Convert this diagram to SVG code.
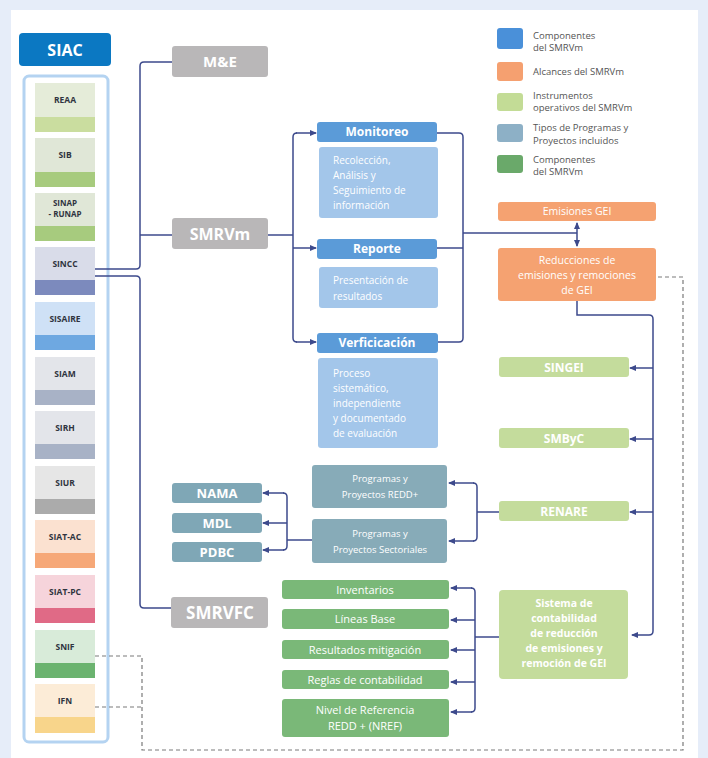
<svg xmlns="http://www.w3.org/2000/svg" width="708" height="758" viewBox="0 0 708 758">
<style>
text{font-family:"Open Sans","Liberation Sans",sans-serif}
.item text{font-size:8.5px;font-weight:bold;fill:#2f3440;text-anchor:middle}
.item text.sm{font-size:8px}
.gray rect{fill:#b9b7b8}
.gray text{fill:#fff;font-weight:bold;text-anchor:middle}
.hdr rect{fill:#5b9bd8}
.hdr text{fill:#fff;font-weight:bold;font-size:12px;text-anchor:middle}
.desc rect{fill:#a3c6ea}
.desc text{fill:#fff;font-size:10px}
.org rect{fill:#f5a271}
.org text{fill:#fff;font-size:10.5px;text-anchor:middle}
.lg rect{fill:#c4dc9c}
.lg text{fill:#fff;font-size:12px;font-weight:bold;text-anchor:middle}
.lg text.st{font-size:10.5px}
.tl rect{fill:#87abb8}
.tl text{fill:#fff;font-size:9.5px;text-anchor:middle}
.tb rect{fill:#7fa7b6}
.tb text{fill:#fff;font-size:13px;font-weight:bold;text-anchor:middle}
.gr rect{fill:#7ab878}
.gr text{fill:#fff;font-size:11px;text-anchor:middle}
.legend text{fill:#555;font-size:9.5px}
.conn path{fill:none;stroke:#3d4a8c;stroke-width:1.5}
.dash path{fill:none;stroke:#7a7a7a;stroke-width:1.2;stroke-dasharray:4 3}
</style>
<defs>
<marker id="ah" markerWidth="7" markerHeight="6" refX="6" refY="3" orient="auto-start-reverse" markerUnits="userSpaceOnUse">
<path d="M0,0 L7,3 L0,6 Z" fill="#3d4a8c"/>
</marker>
</defs>
<rect x="0" y="0" width="708" height="758" fill="#e6edf9"/>
<rect x="11" y="10" width="687" height="748" fill="#ffffff"/>

<!-- Left SIAC panel -->
<g id="siac">
<rect x="19" y="33" width="92" height="33" rx="4" fill="#0b78c2"/>
<text x="65" y="56" font-size="16" font-weight="bold" fill="#fff" text-anchor="middle">SIAC</text>
</g>
<rect x="24" y="76" width="84" height="666" rx="5" fill="#fff" stroke="#b4d3f1" stroke-width="3"/>
<g id="reaa" class="item"><rect x="35" y="83" width="60" height="34" fill="#e5ecd9"/><rect x="35" y="117" width="60" height="15" fill="#cadd9f"/><text x="65" y="103">REAA</text></g>
<g id="sib" class="item"><rect x="35" y="138" width="60" height="34" fill="#e0e7d7"/><rect x="35" y="172" width="60" height="15" fill="#a7cb7e"/><text x="65" y="158">SIB</text></g>
<g id="sinap" class="item"><rect x="35" y="193" width="60" height="33" fill="#e0e7d7"/><rect x="35" y="226" width="60" height="15" fill="#a7cb7e"/><text class="sm" x="65" y="206">SINAP</text><text class="sm" x="65" y="217">- RUNAP</text></g>
<g id="sincc" class="item"><rect x="35" y="247" width="60" height="33" fill="#d9dce9"/><rect x="35" y="280" width="60" height="15" fill="#7c8abd"/><text x="65" y="267">SINCC</text></g>
<g id="sisaire" class="item"><rect x="35" y="302" width="60" height="33" fill="#cfe1f6"/><rect x="35" y="335" width="60" height="15" fill="#6ea8e1"/><text x="65" y="322">SISAIRE</text></g>
<g id="siam" class="item"><rect x="35" y="357" width="60" height="33" fill="#e3e5ea"/><rect x="35" y="390" width="60" height="15" fill="#a8b2c6"/><text x="65" y="377">SIAM</text></g>
<g id="sirh" class="item"><rect x="35" y="411" width="60" height="33" fill="#e3e5ea"/><rect x="35" y="444" width="60" height="15" fill="#a8b2c6"/><text x="65" y="431">SIRH</text></g>
<g id="siur" class="item"><rect x="35" y="466" width="60" height="33" fill="#e6e6e6"/><rect x="35" y="499" width="60" height="15" fill="#ababab"/><text x="65" y="486">SIUR</text></g>
<g id="siatac" class="item"><rect x="35" y="520" width="60" height="33" fill="#fbe1d0"/><rect x="35" y="553" width="60" height="15" fill="#f6a878"/><text x="65" y="540">SIAT-AC</text></g>
<g id="siatpc" class="item"><rect x="35" y="575" width="60" height="33" fill="#f6d4db"/><rect x="35" y="608" width="60" height="15" fill="#e06a86"/><text x="65" y="595">SIAT-PC</text></g>
<g id="snif" class="item"><rect x="35" y="630" width="60" height="33" fill="#d8ebd9"/><rect x="35" y="663" width="60" height="15" fill="#6bb36f"/><text x="65" y="650">SNIF</text></g>
<g id="ifn" class="item"><rect x="35" y="684" width="60" height="33" fill="#fcecd7"/><rect x="35" y="717" width="60" height="16" fill="#f8d58b"/><text x="65" y="704">IFN</text></g>

<!-- Gray nodes -->
<g id="me" class="gray"><rect x="172" y="46" width="96" height="31" rx="3"/><text x="220" y="67" font-size="15">M&amp;E</text></g>
<g id="smrvm" class="gray"><rect x="172" y="218" width="96" height="31" rx="3"/><text x="220" y="240" font-size="16">SMRVm</text></g>
<g id="smrvfc" class="gray"><rect x="171" y="597" width="97" height="31" rx="3"/><text x="220" y="619" font-size="17">SMRVFC</text></g>

<!-- Blue components -->
<g id="monitoreo" class="hdr"><rect x="317" y="122" width="120" height="20" rx="3"/><text x="377" y="136">Monitoreo</text></g>
<g id="monitoreo-desc" class="desc"><rect x="319" y="147" width="119" height="71" rx="3"/><text x="333" y="164">Recolección,</text><text x="333" y="179">Análisis y</text><text x="333" y="194">Seguimiento de</text><text x="333" y="209">información</text></g>
<g id="reporte" class="hdr"><rect x="317" y="239" width="120" height="20" rx="3"/><text x="377" y="253">Reporte</text></g>
<g id="reporte-desc" class="desc"><rect x="319" y="267" width="119" height="41" rx="3"/><text x="333" y="284">Presentación de</text><text x="333" y="300">resultados</text></g>
<g id="verificacion" class="hdr"><rect x="317" y="333" width="121" height="20" rx="3"/><text x="377" y="347">Verficicación</text></g>
<g id="verificacion-desc" class="desc"><rect x="318" y="358" width="120" height="90" rx="3"/><text x="333" y="377">Proceso</text><text x="333" y="392">sistemático,</text><text x="333" y="407">independiente</text><text x="333" y="422">y documentado</text><text x="333" y="437">de evaluación</text></g>

<!-- Orange -->
<g id="emisiones" class="org"><rect x="498" y="202" width="158" height="19" rx="3"/><text x="577" y="215">Emisiones GEI</text></g>
<g id="reducciones" class="org"><rect x="498" y="248" width="158" height="53" rx="3"/><text x="577" y="264">Reducciones de</text><text x="577" y="279">emisiones y remociones</text><text x="577" y="294">de GEI</text></g>

<!-- Light green instruments -->
<g id="singei" class="lg"><rect x="499" y="357" width="130" height="20" rx="3"/><text x="564" y="372">SINGEI</text></g>
<g id="smbyc" class="lg"><rect x="499" y="428" width="130" height="20" rx="3"/><text x="564" y="443">SMByC</text></g>
<g id="renare" class="lg"><rect x="499" y="501" width="130" height="20" rx="3"/><text x="564" y="516">RENARE</text></g>
<g id="sistema" class="lg"><rect x="499" y="590" width="129" height="89" rx="4"/><text class="st" x="564" y="607">Sistema de</text><text class="st" x="564" y="622">contabilidad</text><text class="st" x="564" y="637">de reducción</text><text class="st" x="564" y="652">de emisiones y</text><text class="st" x="564" y="667">remoción de GEI</text></g>

<!-- Programs -->
<g id="prog-redd" class="tl"><rect x="312" y="465" width="135" height="43" rx="3"/><text x="380" y="482">Programas y</text><text x="380" y="498">Proyectos REDD+</text></g>
<g id="prog-sect" class="tl"><rect x="312" y="519" width="135" height="44" rx="3"/><text x="380" y="537">Programas y</text><text x="380" y="553">Proyectos Sectoriales</text></g>
<g id="nama" class="tb"><rect x="172" y="483" width="90" height="20" rx="3"/><text x="217" y="498">NAMA</text></g>
<g id="mdl" class="tb"><rect x="172" y="513" width="90" height="20" rx="3"/><text x="217" y="528">MDL</text></g>
<g id="pdbc" class="tb"><rect x="172" y="542" width="90" height="20" rx="3"/><text x="217" y="557">PDBC</text></g>

<!-- Green components -->
<g id="inventarios" class="gr"><rect x="282" y="580" width="167" height="19" rx="3"/><text x="365" y="594">Inventarios</text></g>
<g id="lineas" class="gr"><rect x="282" y="609" width="167" height="20" rx="3"/><text x="365" y="623">Líneas Base</text></g>
<g id="resultados" class="gr"><rect x="282" y="640" width="167" height="19" rx="3"/><text x="365" y="654">Resultados mitigación</text></g>
<g id="reglas" class="gr"><rect x="282" y="670" width="167" height="19" rx="3"/><text x="365" y="684">Reglas de contabilidad</text></g>
<g id="nref" class="gr"><rect x="282" y="699" width="167" height="38" rx="3"/><text x="365" y="714">Nivel de Referencia</text><text x="365" y="730">REDD + (NREF)</text></g>

<!-- Legend -->
<g id="legend" class="legend">
<rect x="497" y="28" width="26" height="21" rx="3" fill="#4a90d9"/><text x="533" y="39">Componentes</text><text x="533" y="51">del SMRVm</text>
<rect x="497" y="62" width="26" height="19" rx="3" fill="#f5a070"/><text x="533" y="75">Alcances del SMRVm</text>
<rect x="497" y="93" width="26" height="18" rx="3" fill="#c3dc96"/><text x="533" y="99">Instrumentos</text><text x="533" y="111">operativos del SMRVm</text>
<rect x="497" y="124" width="26" height="18" rx="3" fill="#8db0c6"/><text x="533" y="131">Tipos de Programas y</text><text x="533" y="144">Proyectos incluidos</text>
<rect x="497" y="155" width="26" height="18" rx="3" fill="#6aa96a"/><text x="533" y="163">Componentes</text><text x="533" y="175">del SMRVm</text>
</g>

<!-- Connectors -->
<g id="connectors" class="conn">
<path d="M95,269 H136 Q140,269 140,265 V66 Q140,62 144,62 H172"/>
<path d="M140,235 H172"/>
<path d="M95,276 H136 Q140,276 140,280 V604 Q140,608 144,608 H171"/>
<path d="M268,235 H293"/>
<path d="M297,133 Q293,133 293,137 V338 Q293,342 297,342"/>
<path d="M296,133 H316" marker-end="url(#ah)"/>
<path d="M293,248 H316" marker-end="url(#ah)"/>
<path d="M296,342 H316" marker-end="url(#ah)"/>
<path d="M437,133 H459 Q463,133 463,137 V338 Q463,342 459,342 H438"/>
<path d="M437,248 H463"/>
<path d="M463,233 H577"/>
<path d="M577,223 V246" marker-start="url(#ah)" marker-end="url(#ah)"/>
<path d="M577,301 V315 H649 Q653,315 653,319 V631 Q653,635 649,635 H632" marker-end="url(#ah)"/>
<path d="M653,368 H630" marker-end="url(#ah)"/>
<path d="M653,439 H630" marker-end="url(#ah)"/>
<path d="M653,512 H630" marker-end="url(#ah)"/>
<path d="M499,512 H477"/>
<path d="M473,483 Q477,483 477,487 V537 Q477,541 473,541"/>
<path d="M474,483 H449" marker-end="url(#ah)"/>
<path d="M474,541 H449" marker-end="url(#ah)"/>
<path d="M312,540 H287"/>
<path d="M283,493 Q287,493 287,497 V546 Q287,550 283,550"/>
<path d="M284,493 H263" marker-end="url(#ah)"/>
<path d="M287,523 H263" marker-end="url(#ah)"/>
<path d="M284,550 H263" marker-end="url(#ah)"/>
<path d="M499,637 H475"/>
<path d="M471,588 Q475,588 475,592 V708 Q475,712 471,712"/>
<path d="M472,588 H451" marker-end="url(#ah)"/>
<path d="M475,620 H451" marker-end="url(#ah)"/>
<path d="M475,650 H451" marker-end="url(#ah)"/>
<path d="M475,682 H451" marker-end="url(#ah)"/>
<path d="M472,712 H451" marker-end="url(#ah)"/>
</g>
<g id="dashed-connectors" class="dash">
<path d="M95,656 H142 V750 H683 V277 H656"/>
<path d="M95,707 H142"/>
</g>
</svg>
